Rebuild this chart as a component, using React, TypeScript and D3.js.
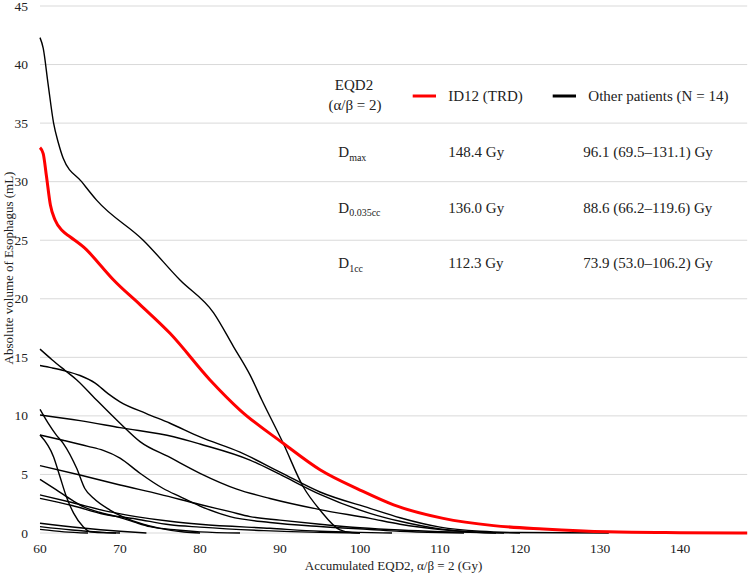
import React from "react";
import * as d3 from "d3";

type Pt = [number, number];

const redPatient: Pt[] = [
  [60, 32.9], [60.4, 32.4], [60.8, 30.5], [61.3, 28.0], [61.9, 26.7], [62.8, 25.8],
  [63.75, 25.3], [65.8, 24.2], [67.5, 22.9], [69.2, 21.6], [72.5, 19.5], [76.25, 17.05],
  [81.25, 13.07], [85, 10.5], [90.4, 7.66], [95, 5.4], [100, 3.67], [104.2, 2.4],
  [110.4, 1.25], [116.7, 0.63], [122.9, 0.34], [131, 0.1], [140, 0.03], [148.4, 0],
];

const otherA: Pt[] = [
  [60, 42.3], [60.4, 41.4], [61.0, 38.4], [61.7, 35.0], [62.3, 33.3], [62.9, 32.0],
  [65.2, 30.0], [67.1, 28.4], [72.9, 25.0], [77.5, 21.6], [81.7, 18.8], [84.2, 15.9],
  [86.25, 13.5], [87.7, 11.4], [90.4, 7.66], [92.9, 3.95], [95, 1.96], [97.5, 0.26],
  [99, 0.03], [100, 0],
];
const otherB: Pt[] = [
  [60, 15.7], [61.5, 14.8], [63.1, 13.9], [64.6, 13.07], [67, 11.4], [70, 9.37],
  [72.5, 7.8], [76.25, 6.45], [80, 5.1], [84.6, 3.75], [88.75, 2.95], [95, 2.0],
  [101.25, 1.25], [105, 0.75], [110, 0.3], [115, 0.05], [118, 0],
];
const otherC: Pt[] = [
  [60, 14.3], [61.5, 14.1], [63.1, 13.85], [65, 13.45], [66.9, 12.8], [68.5, 11.9],
  [70, 11.2], [73.3, 10.2], [76.25, 9.37], [80, 8.2], [85, 6.9], [90, 5.2], [95, 3.5],
  [101.25, 2.1], [105, 1.3], [110, 0.5], [115, 0.15], [120, 0.04], [131.1, 0],
];
const otherD: Pt[] = [
  [60, 10.08], [65, 9.6], [70, 9.0], [76.7, 8.22], [80, 7.6], [86.25, 6.23],
  [90, 5.0], [95, 3.3], [101.25, 1.68], [105, 1.0], [110, 0.35], [114, 0.08], [117, 0],
];
const otherE: Pt[] = [
  [60, 10.56], [61, 9.4], [62, 8.4], [62.9, 7.66], [64.6, 5.5], [65.6, 3.8],
  [66.7, 2.96], [68.75, 1.96], [72.5, 0.83], [75, 0.4], [78, 0.08], [80, 0],
];
const otherF: Pt[] = [
  [60, 8.37], [61.7, 6.5], [62.5, 4.8], [63.3, 3.1], [64.2, 1.7], [65.4, 0.54],
  [66.25, 0.11], [68.3, 0.01], [69.5, 0],
];
const otherG: Pt[] = [
  [60, 8.37], [63, 7.9], [66, 7.4], [67.9, 7.05], [70, 6.4], [72.5, 5.1],
  [75.4, 3.8], [77.5, 3.1], [80, 2.3], [83.75, 1.4], [88.75, 0.9], [95, 0.55],
  [101.25, 0.3], [105, 0.15], [110, 0.04], [113, 0],
];
const otherH: Pt[] = [
  [60, 5.75], [65, 4.95], [70, 4.1], [75, 3.3], [80, 2.43], [83.75, 1.82],
  [86.25, 1.4], [90, 1.1], [95, 0.75], [100, 0.45], [105, 0.25], [110, 0.12],
  [115, 0.04], [120, 0],
];
const otherI: Pt[] = [
  [60, 4.58], [62, 3.7], [64, 2.8], [65.4, 2.25], [67.5, 1.75], [69.6, 1.4],
  [71.7, 0.95], [73.75, 0.54], [77.1, 0.26], [80, 0.1], [85, 0],
];
const otherJ: Pt[] = [
  [60, 3.25], [64, 2.6], [68.75, 1.8], [72, 1.4], [76.25, 1.0], [80, 0.75],
  [88.75, 0.4], [95, 0.15], [100, 0.05], [104, 0],
];
const otherK: Pt[] = [
  [60, 2.96], [64, 2.35], [68, 1.6], [72, 1.2], [76.25, 0.7], [80, 0.5],
  [88, 0.2], [95, 0.05], [100, 0],
];
const otherL: Pt[] = [[60, 0.83], [65, 0.45], [70, 0.15], [73.3, 0]];
const otherM: Pt[] = [[60, 0.54], [64, 0.25], [68, 0.05], [70, 0]];
const otherN: Pt[] = [[60, 0.31], [63, 0.1], [66, 0]];

const otherPatients: Pt[][] = [
  otherA, otherB, otherC, otherD, otherE, otherF, otherG,
  otherH, otherI, otherJ, otherK, otherL, otherM, otherN,
];

const xTicks = [60, 70, 80, 90, 100, 110, 120, 130, 140];
const yTicks = [0, 5, 10, 15, 20, 25, 30, 35, 40, 45];

const rowLabels = [
  { main: "D", sub: "max" },
  { main: "D", sub: "0.035cc" },
  { main: "D", sub: "1cc" },
];
const rowRed = ["148.4 Gy", "136.0 Gy", "112.3 Gy"];
const rowOther = ["96.1 (69.5–131.1) Gy", "88.6 (66.2–119.6) Gy", "73.9 (53.0–106.2) Gy"];

const W = 749;
const H = 574;
const FONT = "Liberation Serif, Times New Roman, serif";
const TXT: React.CSSProperties = { fontFamily: FONT };

export default function App() {
  const x = d3.scaleLinear().domain([60, 148.4]).range([40, 747.2]);
  const y = d3.scaleLinear().domain([0, 45]).range([533, 6]);
  const line = d3
    .line<Pt>()
    .x((d) => x(d[0]))
    .y((d) => y(d[1]))
    .curve(d3.curveMonotoneX);

  const rowY = [157, 212.5, 268];

  return (
    <svg
      width={W}
      height={H}
      style={{ position: "absolute", left: 0, top: 0, background: "#fff", fontFamily: FONT }}
    >
      <rect x={0} y={0} width={W} height={H} fill="#fff" />
      {yTicks.map((t) => (
        <g key={t}>
          <line x1={40} x2={747.2} y1={y(t)} y2={y(t)} stroke="#d9d9d9" strokeWidth={1} />
          <text x={28} y={y(t) + 4.5} textAnchor="end" fontSize={13.5} fill="#222" style={TXT}>
            {t}
          </text>
        </g>
      ))}
      {xTicks.map((t) => (
        <text key={t} x={x(t)} y={553} textAnchor="middle" fontSize={13.5} fill="#222" style={TXT}>
          {t}
        </text>
      ))}
      <text x={393.5} y={570} textAnchor="middle" fontSize={13} fill="#222" style={TXT}>
        Accumulated EQD2, α/β = 2 (Gy)
      </text>
      <text
        transform={`translate(13,268) rotate(-90)`}
        textAnchor="middle"
        fontSize={13}
        fill="#222"
        style={TXT}
      >
        Absolute volume of Esophagus (mL)
      </text>

      {otherPatients.map((p, i) => (
        <path key={i} d={line(p) || ""} fill="none" stroke="#000" strokeWidth={1.4} />
      ))}
      <path d={line(redPatient) || ""} fill="none" stroke="#ff0000" strokeWidth={3} />

      <text x={354} y={90} textAnchor="middle" fontSize={15} fill="#222" style={TXT}>
        EQD2
      </text>
      <text x={355} y={110} textAnchor="middle" fontSize={15} fill="#222" style={TXT}>
        (α/β = 2)
      </text>
      <line x1={412.7} x2={436} y1={96} y2={96} stroke="#ff0000" strokeWidth={3} />
      <text x={448.3} y={101} fontSize={15} fill="#222" style={TXT}>
        ID12 (TRD)
      </text>
      <line x1={552.7} x2={576} y1={96} y2={96} stroke="#000" strokeWidth={3} />
      <text x={588.3} y={101} fontSize={15} fill="#222" style={TXT}>
        Other patients (N = 14)
      </text>

      {rowLabels.map((r, i) => (
        <g key={i}>
          <text x={338.3} y={rowY[i]} fontSize={15} fill="#222" style={TXT}>
            {r.main}
            <tspan fontSize={10} dy={3.5}>
              {r.sub}
            </tspan>
          </text>
          <text x={448.3} y={rowY[i]} fontSize={15} fill="#222" style={TXT}>
            {rowRed[i]}
          </text>
          <text x={583.3} y={rowY[i]} fontSize={15} fill="#222" style={TXT}>
            {rowOther[i]}
          </text>
        </g>
      ))}
    </svg>
  );
}
